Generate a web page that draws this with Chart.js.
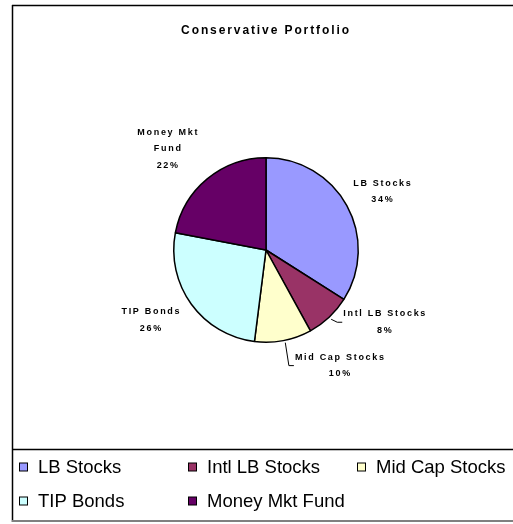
<!DOCTYPE html>
<html>
<head>
<meta charset="utf-8">
<script src="https://cdn.jsdelivr.net/npm/chart.js@4/dist/chart.umd.min.js"></script>
<style>
  body { margin: 0; background: #fff; }
</style>
</head>
<body>
<canvas id="pie-chart" width="513" height="524"></canvas>
<script>
const chartTitle = 'Conservative Portfolio';
const categories = ['LB Stocks', 'Intl LB Stocks', 'Mid Cap Stocks', 'TIP Bonds', 'Money Mkt Fund'];
const shares = [34, 8, 10, 26, 22];
const sliceColors = ['#9999FF', '#993366', '#FFFFCC', '#CCFFFF', '#660066'];

const FONT = '"Liberation Sans", Arial, sans-serif';

// frame, title and the legend grid under the separator line
const framePlugin = {
    id: 'frame',
    afterDraw(chart, args, opts) {
        const ctx = chart.ctx;
        ctx.save();
        ctx.strokeStyle = '#000';
        ctx.lineWidth = 1.5;
        ctx.beginPath();
        ctx.moveTo(12, 5.5); ctx.lineTo(513, 5.5);
        ctx.moveTo(12.5, 5); ctx.lineTo(12.5, 522);
        ctx.moveTo(12, 449.5); ctx.lineTo(513, 449.5);
        ctx.stroke();
        ctx.strokeStyle = '#808080';
        ctx.lineWidth = 2;
        ctx.beginPath();
        ctx.moveTo(12, 521); ctx.lineTo(513, 521);
        ctx.stroke();

        // title
        ctx.fillStyle = '#000';
        ctx.font = 'bold 12px ' + FONT;
        ctx.letterSpacing = '1.9px';
        ctx.textAlign = 'center';
        ctx.textBaseline = 'middle';
        ctx.fillText(chartTitle, 266, 31);

        // legend
        ctx.letterSpacing = '0px';
        ctx.font = '18.5px ' + FONT;
        ctx.textAlign = 'left';
        const cols = [19, 188, 357];
        const rows = [466.5, 500.5];
        chart.data.labels.forEach((label, i) => {
            const x = cols[i % 3];
            const y = rows[Math.floor(i / 3)];
            ctx.fillStyle = sliceColors[i];
            ctx.fillRect(x + 0.5, y - 3.5, 8, 8);
            ctx.strokeStyle = '#000';
            ctx.lineWidth = 1;
            ctx.strokeRect(x + 0.5, y - 3.5, 8, 8);
            ctx.fillStyle = '#000';
            ctx.fillText(label, x + 19, y + 1);
        });
        ctx.restore();
    }
};

// outside data labels: name + percent, with leader lines for the small slices
const sliceLabels = {
    id: 'sliceLabels',
    afterDatasetsDraw(chart, args, opts) {
        const ctx = chart.ctx;
        const meta = chart.getDatasetMeta(0);
        const values = chart.data.datasets[0].data;
        const total = values.reduce((a, b) => a + b, 0);
        ctx.save();
        ctx.font = 'bold 9px ' + FONT;
        ctx.letterSpacing = '1.7px';
        ctx.fillStyle = '#000';
        ctx.textAlign = 'center';
        ctx.textBaseline = 'middle';
        meta.data.forEach((arc, i) => {
            const p = arc.getProps(['x', 'y', 'startAngle', 'endAngle', 'outerRadius'], true);
            const mid = (p.startAngle + p.endAngle) / 2;
            const ax = p.x + Math.cos(mid) * p.outerRadius;
            const ay = p.y + Math.sin(mid) * p.outerRadius;
            const off = opts.offsets[i];
            const cx = ax + off[0];
            const cy = ay + off[1];

            // wrap the name if it is too wide
            const words = chart.data.labels[i].split(' ');
            const lines = [];
            let cur = '';
            words.forEach(w => {
                const test = cur ? cur + ' ' + w : w;
                if (cur && ctx.measureText(test).width > opts.maxWidth) {
                    lines.push(cur);
                    cur = w;
                } else {
                    cur = test;
                }
            });
            lines.push(cur);
            lines.push(Math.round(values[i] / total * 100) + '%');

            const top = cy - (lines.length - 1) * opts.lineHeight / 2;
            lines.forEach((t, k) => ctx.fillText(t, cx, top + k * opts.lineHeight));

            if (opts.leaders[i]) {
                const w = ctx.measureText(lines[0]).width;
                const left = cx - w / 2;
                ctx.strokeStyle = '#000';
                ctx.lineWidth = 1;
                ctx.beginPath();
                ctx.moveTo(ax + 2, ay + 2);
                ctx.lineTo(left - 6, cy);
                ctx.lineTo(left - 1, cy);
                ctx.stroke();
            }
        });
        ctx.restore();
    }
};

new Chart(document.querySelector('#pie-chart').getContext('2d'), {
    type: 'pie',
    data: {
        labels: categories,
        datasets: [{
            data: shares,
            backgroundColor: sliceColors,
            borderColor: '#000',
            borderWidth: 1.5
        }]
    },
    options: {
        responsive: false,
        animation: false,
        layout: {
            padding: { left: 173, right: 154, top: 157, bottom: 181 }
        },
        plugins: {
            legend: { display: false },
            tooltip: { enabled: false },
            sliceLabels: {
                offsets: [[36, -14], [56, 5], [57, 25], [-40, 16], [-39, -30]],
                leaders: [false, true, true, false, false],
                maxWidth: 93,
                lineHeight: 16.5
            }
        }
    },
    plugins: [sliceLabels, framePlugin]
});
</script>
</body>
</html>
